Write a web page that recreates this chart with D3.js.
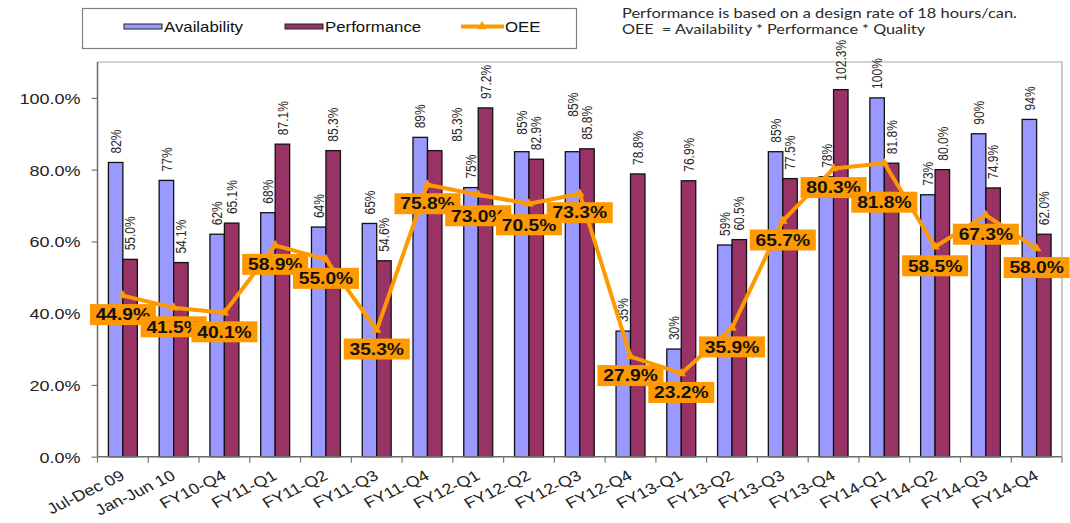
<!DOCTYPE html>
<html>
<head>
<meta charset="utf-8">
<script src="https://cdn.jsdelivr.net/npm/d3@7"></script>
<style>
  html, body { margin: 0; padding: 0; background: #fff; }
  svg { display: block; }
  text { font-family: "Liberation Sans", Arial, sans-serif; }
</style>
</head>
<body>
<svg id="chart" width="1070" height="523"></svg>
<script>
// ---------------- data ----------------
const categories = ["Jul-Dec 09","Jan-Jun 10","FY10-Q4","FY11-Q1","FY11-Q2","FY11-Q3","FY11-Q4",
  "FY12-Q1","FY12-Q2","FY12-Q3","FY12-Q4","FY13-Q1","FY13-Q2","FY13-Q3","FY13-Q4",
  "FY14-Q1","FY14-Q2","FY14-Q3","FY14-Q4"];
const availability = [82,77,62,68,64,65,89,75,85,85,35,30,59,85,78,100,73,90,94];
const performance  = [55.0,54.1,65.1,87.1,85.3,54.6,85.3,97.2,82.9,85.8,78.8,76.9,60.5,77.5,102.3,81.8,80.0,74.9,62.0];
const oee          = [44.9,41.5,40.1,58.9,55.0,35.3,75.8,73.0,70.5,73.3,27.9,23.2,35.9,65.7,80.3,81.8,58.5,67.3,58.0];
const yTicks = [0,20,40,60,80,100];
const seriesNames = ["Availability","Performance","OEE"];
const notes = ["Performance is based on a design rate of 18 hours/can.",
               "OEE  = Availability * Performance * Quality"];

// ---------------- layout (not data) ----------------
const S = 1.2;                       // horizontal text stretch of the original
const plot = {left: 97.5, right: 1062, top: 62, bottom: 456.7};
const colors = {avail: "#9999FF", perf: "#993366", oee: "#FF9900"};
// manual label nudges seen in the original
const oeeLabelDy = oee.map((d,i)=> i===15 ? 39 : (i===7||i===8) ? 21 : 19);
const availLabelUp = availability.map((d,i)=> i===9 ? 26 : i===8 ? 8 : 0);
const perfLabelDx = performance.map((d,i)=> i===6 ? 22 : 0);

const svg = d3.select("#chart");
svg.append("rect").attr("width",1070).attr("height",523).attr("fill","#fff");

const x = d3.scaleBand().domain(categories).range([plot.left, plot.right])
  .paddingInner(0.43).paddingOuter(0.215);
const xs = d3.scaleBand().domain(["a","p"]).range([0, x.bandwidth()]);
const y = d3.scaleLinear().domain([0,110]).range([plot.bottom, plot.top]);
const cx = c => x(c) + x.bandwidth()/2;

// plot border (top/right lighter)
svg.append("path")
  .attr("d", `M${plot.left},${plot.top}H${plot.right}V${plot.bottom}`)
  .attr("fill","none").attr("stroke","#a6a6a6").attr("stroke-width",1.2);

// bars
const g = svg.append("g");
categories.forEach((c,i)=>{
  g.append("rect").attr("x", x(c)+xs("a")).attr("width", xs.bandwidth())
    .attr("y", y(availability[i])).attr("height", y(0)-y(availability[i]))
    .attr("fill", colors.avail).attr("stroke","#111").attr("stroke-width",1.3);
  g.append("rect").attr("x", x(c)+xs("p")).attr("width", xs.bandwidth())
    .attr("y", y(performance[i])).attr("height", y(0)-y(performance[i]))
    .attr("fill", colors.perf).attr("stroke","#111").attr("stroke-width",1.3);
});

// bar value labels (rotated)
const bl = svg.append("g").attr("font-size",12).attr("fill","#2a2a2a");
categories.forEach((c,i)=>{
  const ax = x(c)+xs("a")+xs.bandwidth()/2, px = x(c)+xs("p")+xs.bandwidth()/2 + perfLabelDx[i];
  bl.append("text").attr("text-anchor","start").attr("dy","0.36em")
    .attr("transform",`translate(${ax},${y(availability[i])-9-availLabelUp[i]}) scale(${S},1) rotate(-90)`)
    .text(availability[i]+"%");
  bl.append("text").attr("text-anchor","start").attr("dy","0.36em")
    .attr("transform",`translate(${px},${y(performance[i])-9}) scale(${S},1) rotate(-90)`)
    .text(performance[i].toFixed(1)+"%");
});

// y axis
const yAxis = svg.append("g").attr("transform",`translate(${plot.left},0)`)
  .call(d3.axisLeft(y).tickValues(yTicks).tickSize(6).tickSizeOuter(0)
        .tickFormat(d=>d.toFixed(1)+"%"));
yAxis.select(".domain").attr("stroke","#6b6b6b").attr("stroke-width",1.5)
  .attr("d",`M0,${plot.bottom}V${plot.top}`);
yAxis.selectAll(".tick line").attr("stroke","#777").attr("stroke-width",1.2);
yAxis.selectAll(".tick text").attr("x",0).attr("dy","0.36em")
  .attr("transform",`translate(-17,0) scale(${S},1)`)
  .attr("font-size",15).attr("fill","#222").attr("font-family","Liberation Sans, Arial, sans-serif");

// x axis
const xAxis = svg.append("g").attr("transform",`translate(0,${plot.bottom})`)
  .call(d3.axisBottom(x).tickSize(0).tickSizeOuter(0));
xAxis.select(".domain").attr("stroke","#6b6b6b").attr("stroke-width",1.5)
  .attr("d",`M${plot.left},0H${plot.right}`);
xAxis.selectAll(".tick text").attr("x",0).attr("y",0).attr("dy",0)
  .attr("text-anchor","end")
  .attr("transform",`translate(3,22) scale(${S},1) rotate(-30)`)
  .attr("font-size",15).attr("fill","#222").attr("font-family","Liberation Sans, Arial, sans-serif");
// category boundary ticks
d3.range(categories.length+1).forEach(k=>{
  const xx = plot.left + k*x.step();
  xAxis.append("line").attr("x1",xx).attr("x2",xx).attr("y1",0).attr("y2",6)
    .attr("stroke","#777").attr("stroke-width",1.2);
});

// OEE line
const line = d3.line().x((d,i)=>cx(categories[i])).y(d=>y(d));
svg.append("path").datum(oee).attr("d",line).attr("fill","none")
  .attr("stroke",colors.oee).attr("stroke-width",4).attr("stroke-linejoin","round");
svg.append("g").selectAll("path").data(oee).join("path")
  .attr("d", d3.symbol(d3.symbolTriangle, 40))
  .attr("transform",(d,i)=>`translate(${cx(categories[i])},${y(d)})`)
  .attr("fill",colors.oee);

// OEE label boxes
const lb = svg.append("g");
oee.forEach((d,i)=>{
  const bx = cx(categories[i]), by = y(d) + oeeLabelDy[i];
  const gg = lb.append("g");
  gg.append("rect").attr("x",bx-33).attr("y",by-10.5).attr("width",66).attr("height",21)
    .attr("fill",colors.oee);
  gg.append("text").attr("text-anchor","middle").attr("dy","0.36em")
    .attr("transform",`translate(${bx},${by}) scale(${S},1)`)
    .attr("font-size",16).attr("font-weight","bold").attr("fill","#111")
    .text(d.toFixed(1)+"%");
});

// legend
const lg = svg.append("g");
lg.append("rect").attr("x",82.5).attr("y",8.5).attr("width",494).attr("height",40)
  .attr("fill","#fff").attr("stroke","#808080").attr("stroke-width",1.2);
const legendItems = [
  {name: seriesNames[0], x: 124, type:"bar", color: colors.avail},
  {name: seriesNames[1], x: 285, type:"bar", color: colors.perf},
  {name: seriesNames[2], x: 461, type:"line", color: colors.oee}
];
legendItems.forEach(it=>{
  const ly = 26.5;
  if (it.type==="bar") {
    lg.append("rect").attr("x",it.x).attr("y",ly-2.5).attr("width",38).attr("height",5)
      .attr("fill",it.color).attr("stroke","#222").attr("stroke-width",1);
  } else {
    lg.append("line").attr("x1",it.x).attr("x2",it.x+43).attr("y1",ly).attr("y2",ly)
      .attr("stroke",it.color).attr("stroke-width",4);
    lg.append("path").attr("d",d3.symbol(d3.symbolTriangle,40))
      .attr("transform",`translate(${it.x+21},${ly})`).attr("fill",it.color);
  }
  lg.append("text").attr("dy","0.36em")
    .attr("transform",`translate(${it.x + (it.type==="bar"?40:44)},${ly}) scale(${S},1)`)
    .attr("font-size",14).attr("fill","#111").text(it.name);
});

// notes
svg.append("text").attr("x",622).attr("y",17.5).attr("font-size",13.5)
  .style("font-family","Lato, 'Open Sans', sans-serif").attr("fill","#2a2a2a")
  .attr("textLength",395).attr("lengthAdjust","spacingAndGlyphs").text(notes[0]);
svg.append("text").attr("x",622).attr("y",33.5).attr("font-size",13.5)
  .style("font-family","Lato, 'Open Sans', sans-serif").attr("fill","#2a2a2a")
  .style("white-space","pre")
  .attr("textLength",303).attr("lengthAdjust","spacingAndGlyphs").text(notes[1]);
</script>
</body>
</html>
